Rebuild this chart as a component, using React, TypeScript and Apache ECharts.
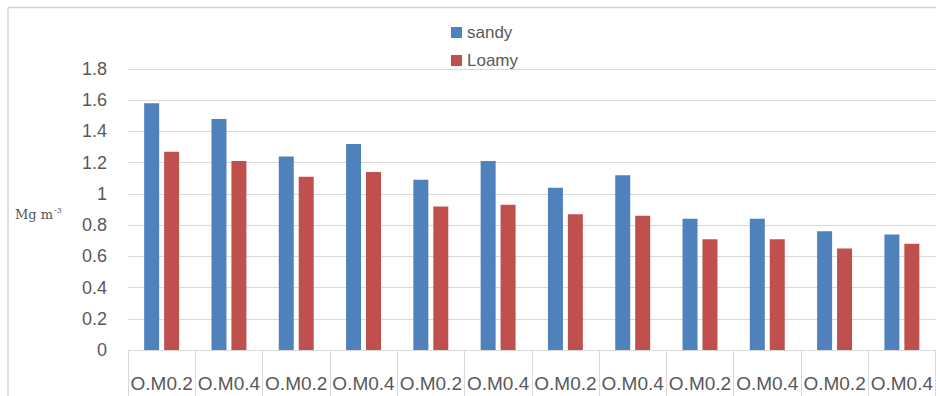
import React, { useEffect, useRef } from "react";
import * as echarts from "echarts";

// Bulk density by organic-matter treatment for two soil textures
const categories = [
  "O.M0.2", "O.M0.4", "O.M0.2", "O.M0.4", "O.M0.2", "O.M0.4",
  "O.M0.2", "O.M0.4", "O.M0.2", "O.M0.4", "O.M0.2", "O.M0.4",
];
const sandy = [1.58, 1.48, 1.24, 1.32, 1.09, 1.21, 1.04, 1.12, 0.84, 0.84, 0.76, 0.74];
const loamy = [1.27, 1.21, 1.11, 1.14, 0.92, 0.93, 0.87, 0.86, 0.71, 0.71, 0.65, 0.68];
const seriesNames = ["sandy", "Loamy"];
const yTicks = { min: 0, max: 1.8, interval: 0.2 };

const FONT = "'Liberation Sans', Arial, sans-serif";
const TEXT = "#595959";
const RULE = "#d9d9d9";

export default function App() {
  const ref = useRef<HTMLDivElement>(null);

  useEffect(() => {
    if (!ref.current) return;
    const chart = echarts.init(ref.current, null, { renderer: "svg" });
    chart.setOption({
      animation: false,
      backgroundColor: "#ffffff",
      legend: {
        orient: "vertical",
        left: 446,
        top: 19,
        itemWidth: 11,
        itemHeight: 11,
        itemGap: 11,
        icon: "rect",
        textStyle: { color: TEXT, fontSize: 17, fontFamily: FONT },
        data: seriesNames,
      },
      grid: { left: 128, right: 0, top: 69, bottom: 46, containLabel: false },
      xAxis: {
        type: "category",
        data: categories,
        boundaryGap: true,
        axisLine: { show: true, lineStyle: { color: RULE, width: 1 } },
        axisTick: { show: true, interval: 0, length: 46, lineStyle: { color: RULE } },
        axisLabel: {
          interval: 0,
          margin: 24,
          color: TEXT,
          fontSize: 19,
          fontFamily: FONT,
        },
      },
      yAxis: {
        type: "value",
        min: yTicks.min,
        max: yTicks.max,
        interval: yTicks.interval,
        axisLine: { show: false },
        axisTick: { show: false },
        splitLine: { show: true, lineStyle: { color: RULE, width: 1 } },
        axisLabel: {
          margin: 21,
          color: TEXT,
          fontSize: 18,
          fontFamily: FONT,
          formatter: (v: number) => String(Math.round(v * 10) / 10),
        },
      },
      graphic: [
        {
          type: "line",
          shape: { x1: 8, y1: 7.5, x2: 936, y2: 7.5 },
          style: { stroke: "#d4d4d4", lineWidth: 1.5 },
        },
        {
          type: "line",
          shape: { x1: 8, y1: 7.5, x2: 8, y2: 396 },
          style: { stroke: "#d4d4d4", lineWidth: 1.5 },
        },
        {
          type: "text",
          left: 15,
          top: 206,
          style: {
            text: "{b|Mg m}{s|-3}",
            rich: {
              b: { fontFamily: "'DejaVu Serif', serif", fontSize: 13, fill: "#555555" },
              s: {
                fontFamily: "'DejaVu Serif', serif",
                fontSize: 8,
                fill: "#555555",
                verticalAlign: "top",
                padding: [0, 0, 8, 1],
              },
            },
          },
        },
      ],
      series: [
        {
          name: seriesNames[0],
          type: "bar",
          data: sandy,
          barWidth: 15,
          barGap: "33%",
          itemStyle: { color: "#4F81BD" },
        },
        {
          name: seriesNames[1],
          type: "bar",
          data: loamy,
          barWidth: 15,
          itemStyle: { color: "#C0504D" },
        },
      ],
    });
    return () => chart.dispose();
  }, []);

  return (
    <div
      ref={ref}
      style={{ position: "absolute", left: 0, top: 0, width: 936, height: 396 }}
    />
  );
}
